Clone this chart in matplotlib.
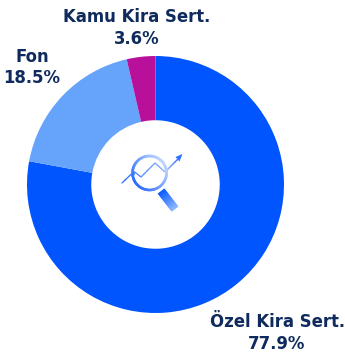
import numpy as np
import matplotlib
matplotlib.use("Agg")
import matplotlib.pyplot as plt
from matplotlib.collections import LineCollection
from matplotlib.colors import to_rgb

W, H = 345, 358

labels = ["Özel Kira Sert.", "Fon", "Kamu Kira Sert."]
values = [77.9, 18.5, 3.6]
colors = ["#0055fe", "#66a3fb", "#b9109b"]
text_color = "#0f2a5c"

plt.rcParams['font.family'] = ['DejaVu Sans']

def blend(c1, c2, t):
    a, b = np.array(to_rgb(c1)), np.array(to_rgb(c2))
    return tuple(a + (b - a) * t)

def grad_line(ax, xs, ys, c1, c2, lw, n=40, cap="round"):
    # split the path in short bits so it can fade from c1 to c2
    d = np.r_[0, np.cumsum(np.hypot(np.diff(xs), np.diff(ys)))]
    t = np.linspace(0, d[-1], n)
    px, py = np.interp(t, d, xs), np.interp(t, d, ys)
    segs = [[(px[i], py[i]), (px[i + 1], py[i + 1])] for i in range(n - 1)]
    cols = [blend(c1, c2, i / (n - 2)) for i in range(n - 1)]
    ax.add_collection(LineCollection(segs, colors=cols, linewidths=lw, capstyle=cap))

fig = plt.figure(figsize=(W / 100, H / 100), dpi=100)

# donut, placed in pixels
cx, cy, r = 155.5, 184.5, 128.5
ax = fig.add_axes([(cx - r) / W, 1 - (cy + r) / H, 2 * r / W, 2 * r / H])
ax.pie(values, colors=colors, startangle=90, counterclock=False, radius=1,
       wedgeprops=dict(width=0.5, linewidth=0))
ax.set_xlim(-1, 1)
ax.set_ylim(-1, 1)
ax.axis("off")

# overlay in picture pixels for the labels and centre icon
ov = fig.add_axes([0, 0, 1, 1])
ov.set_xlim(0, W)
ov.set_ylim(H, 0)
ov.axis("off")

fs = 11.9
kw = dict(ha="center", va="center", color=text_color, fontweight="bold", fontsize=fs)
ov.text(137, 17, labels[2], **kw)
ov.text(137, 39, f"{values[2]}%", **kw)
ov.text(32, 57, labels[1], **kw)
ov.text(32, 78, f"{values[1]}%", **kw)
ov.text(277, 322, labels[0], **kw)
ov.text(277, 344, f"{values[0]}%", **kw)

# icon: trend line
grad_line(ov, [122, 134, 141, 155, 165, 178], [183, 171.5, 177, 163, 172, 159],
          "#2f6fff", "#a9c6ff", 0.9)
grad_line(ov, [165, 180], [172, 157], "#a9c6ff", "#2f6fff", 0.9, n=10)
ov.fill([182.5, 175.5, 179.5], [154, 157, 161.5], color="#2f6fff", lw=0)

# icon: lens ring
a = np.linspace(0, 2 * np.pi, 80)
for i in range(79):
    t = (np.cos((a[i] + a[i + 1]) / 2 + 0.6) + 1) / 2
    ov.plot(149.5 + 17 * np.cos(a[i:i + 2]), 173 + 17 * np.sin(a[i:i + 2]),
            color=blend("#2f6fff", "#bcd4ff", t), lw=1.9, solid_capstyle="round")

# icon: handle, quads overlap a little so no gaps show between the steps
hx = np.linspace(161, 175, 21)
hy = np.linspace(191, 209, 21)
nx, ny = 4.2 * 18 / np.hypot(14, 18), -4.2 * 14 / np.hypot(14, 18)
for i in range(20):
    j = min(i + 2, 20)
    ov.fill([hx[i] + nx, hx[j] + nx, hx[j] - nx, hx[i] - nx],
            [hy[i] + ny, hy[j] + ny, hy[j] - ny, hy[i] - ny],
            color=blend("#0a5cff", "#8fb8ff", i / 19), lw=0)

fig.savefig("out.png", dpi=100)
